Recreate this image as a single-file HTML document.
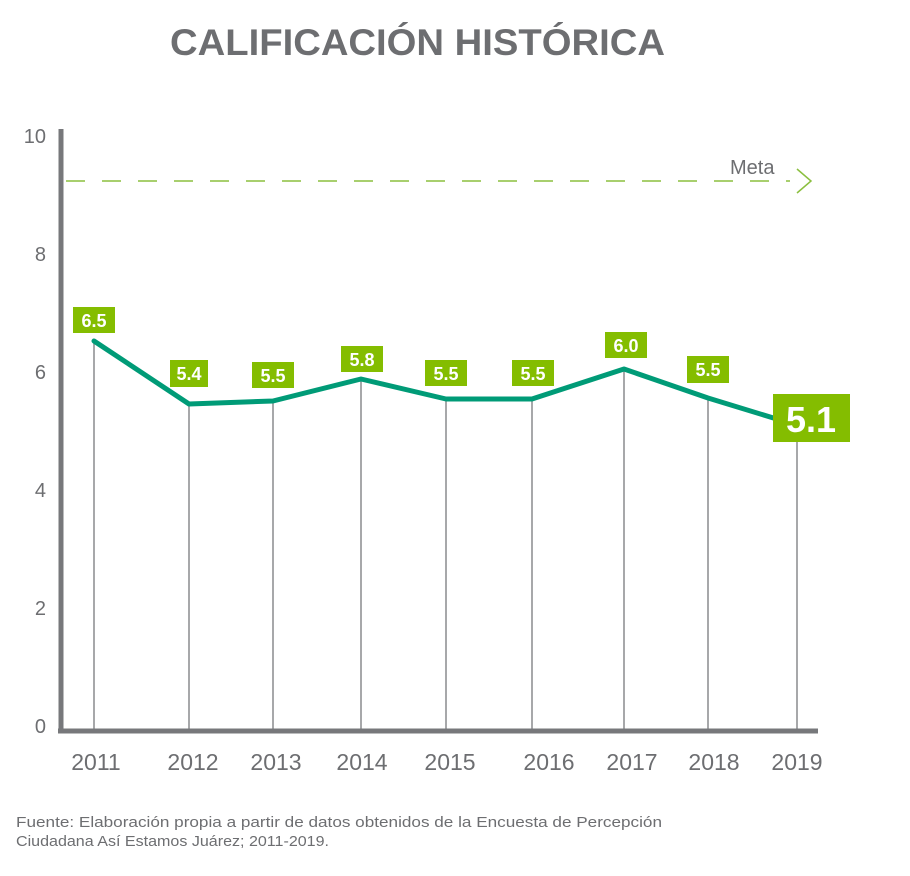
<!DOCTYPE html>
<html><head><meta charset="utf-8"><style>
body{margin:0;background:#fff;width:910px;height:876px;overflow:hidden}
svg{display:block;font-family:"Liberation Sans",sans-serif}
</style></head><body>
<svg width="910" height="876" viewBox="0 0 910 876">
<text x="170" y="55" font-size="37" font-weight="bold" fill="#6d6e71" textLength="495" lengthAdjust="spacingAndGlyphs">CALIFICACIÓN HISTÓRICA</text>
<g fill="#6d6e71" font-size="20" text-anchor="end">
<text x="46" y="143">10</text><text x="46" y="261">8</text><text x="46" y="379">6</text><text x="46" y="497">4</text><text x="46" y="615">2</text><text x="46" y="733">0</text>
</g>
<g stroke="#8a8b8d" stroke-width="1.5">
<line x1="94" y1="341" x2="94" y2="730"/><line x1="189" y1="404" x2="189" y2="730"/><line x1="273" y1="401" x2="273" y2="730"/><line x1="361" y1="379" x2="361" y2="730"/><line x1="446" y1="399" x2="446" y2="730"/><line x1="532" y1="399" x2="532" y2="730"/><line x1="624" y1="369" x2="624" y2="730"/><line x1="708" y1="398" x2="708" y2="730"/><line x1="797" y1="420" x2="797" y2="730"/>
</g>
<line x1="61" y1="129" x2="61" y2="733" stroke="#77787b" stroke-width="5"/>
<line x1="58" y1="731" x2="818" y2="731" stroke="#77787b" stroke-width="5"/>
<line x1="66" y1="181" x2="790" y2="181" stroke="#8bbf3f" stroke-width="1.5" stroke-dasharray="19,17"/>
<polyline points="797,169 811,181 797,193" fill="none" stroke="#8bbf3f" stroke-width="1.5"/>
<text x="730" y="174" font-size="20" fill="#6d6e71">Meta</text>
<polyline points="94,341 189,404 273,401 361,379 446,399 532,399 624,369 708,398 780,420" fill="none" stroke="#009b77" stroke-width="5" stroke-linejoin="round" stroke-linecap="round"/>
<g fill="#84bd00">
<rect x="73" y="307" width="42" height="26"/><rect x="170" y="360" width="38" height="27"/><rect x="252" y="362" width="42" height="26"/><rect x="341" y="346" width="42" height="26"/><rect x="425" y="360" width="42" height="26"/><rect x="512" y="360" width="42" height="26"/><rect x="605" y="332" width="42" height="26"/><rect x="687" y="356" width="42" height="27"/><rect x="773" y="394" width="77" height="48"/>
</g>
<g fill="#fff" font-size="18" font-weight="bold" text-anchor="middle">
<text x="94" y="327">6.5</text><text x="189" y="380">5.4</text><text x="273" y="382">5.5</text><text x="362" y="366">5.8</text><text x="446" y="380">5.5</text><text x="533" y="380">5.5</text><text x="626" y="352">6.0</text><text x="708" y="376">5.5</text>
<text x="811" y="432" font-size="36">5.1</text>
</g>
<g fill="#6d6e71" font-size="23" text-anchor="middle">
<text x="96" y="770">2011</text><text x="193" y="770">2012</text><text x="276" y="770">2013</text><text x="362" y="770">2014</text><text x="450" y="770">2015</text><text x="549" y="770">2016</text><text x="632" y="770">2017</text><text x="714" y="770">2018</text><text x="797" y="770">2019</text>
</g>
<g fill="#6d6e71" font-size="15">
<text x="16" y="827" textLength="646" lengthAdjust="spacingAndGlyphs">Fuente: Elaboración propia a partir de datos obtenidos de la Encuesta de Percepción</text>
<text x="16" y="846" textLength="313" lengthAdjust="spacingAndGlyphs">Ciudadana Así Estamos Juárez; 2011-2019.</text>
</g>
</svg>
</body></html>
